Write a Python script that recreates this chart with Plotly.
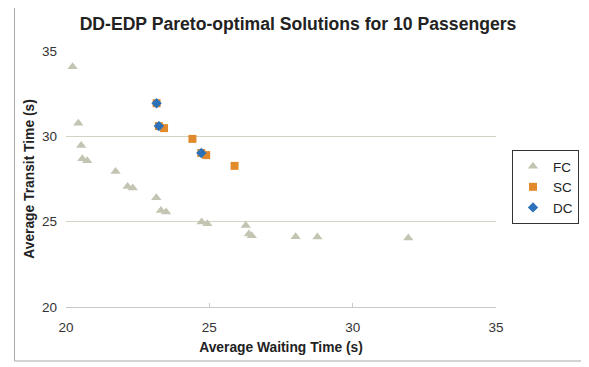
import plotly.graph_objects as go

# Data
fc_wait = [20.23, 20.43, 20.53, 20.57, 20.74, 21.73, 22.15, 22.33, 23.15, 23.31, 23.49,
           24.73, 24.93, 26.27, 26.38, 26.48, 28.01, 28.77, 31.94]
fc_transit = [34.08, 30.77, 29.46, 28.68, 28.57, 27.94, 27.06, 26.97, 26.40, 25.66, 25.57,
              24.98, 24.88, 24.78, 24.28, 24.18, 24.12, 24.10, 24.05]

sc_wait = [23.16, 23.24, 23.42, 24.41, 24.72, 24.89, 25.88]
sc_transit = [31.94, 30.60, 30.48, 29.85, 29.02, 28.90, 28.27]

dc_wait = [23.16, 23.24, 24.72]
dc_transit = [31.94, 30.60, 29.02]

x_ticks = [20, 25, 30, 35]
y_ticks = [20, 25, 30, 35]

title_text = "DD-EDP Pareto-optimal Solutions for 10 Passengers"
x_title = "Average Waiting Time (s)"
y_title = "Average Transit Time (s)"

FONT = "Liberation Sans, Arial, sans-serif"

fig = go.Figure()
fig.add_trace(go.Scatter(x=fc_wait, y=fc_transit, mode="markers", name="FC",
                         marker=dict(symbol="triangle-up", size=9, color="#C4C4B2")))
fig.add_trace(go.Scatter(x=sc_wait, y=sc_transit, mode="markers", name="SC",
                         marker=dict(symbol="square", size=8, color="#E28A2B")))
fig.add_trace(go.Scatter(x=dc_wait, y=dc_transit, mode="markers", name="DC",
                         marker=dict(symbol="diamond", size=8, color="#2D72B8")))

# The page body has an 8px default margin; size the figure to fit the window.
OFF = 8
W, H = 589 - OFF, 367 - OFF
# plot area in page pixels: x 66..496, y 51..307
L, R, T, B = 66 - OFF, 589 - 496, 51 - OFF, 367 - 307
pw, ph = W - L - R, H - T - B

def px_x(px):  # page px -> paper
    return (px - OFF - L) / pw

def px_y(py):
    return (H - B - (py - OFF)) / ph

fig.update_layout(
    width=W, height=H,
    margin=dict(l=L, r=R, t=T, b=B, pad=0, autoexpand=False),
    paper_bgcolor="white", plot_bgcolor="white",
    font=dict(family=FONT, size=13.5, color="#333333"),
    title=dict(text="<b>" + title_text + "</b>", x=(298 - OFF) / W, xanchor="center",
               y=1 - (24 - OFF) / H, yanchor="middle", yref="container",
               font=dict(family=FONT, size=17.6, color="#222222")),
    xaxis=dict(range=[20, 35], tickvals=x_ticks, showgrid=False, zeroline=False,
               showline=True, linecolor="#C8C8C8", linewidth=1,
               ticks="inside", ticklen=4, tickcolor="#C8C8C8",
               ticklabelstandoff=8,
               tickfont=dict(size=13.5, color="#333333"),
               title=dict(text="<b>" + x_title + "</b>", standoff=8,
                          font=dict(size=13.8, color="#222222"))),
    yaxis=dict(range=[20, 35], tickvals=y_ticks, showgrid=True, gridcolor="#D3D2C3",
               gridwidth=1, zeroline=False, showline=False, ticks="",
               ticklabelstandoff=8,
               tickfont=dict(size=13.5, color="#333333"),
               title=dict(text="<b>" + y_title + "</b>", standoff=4,
                          font=dict(size=13.8, color="#222222"))),
    legend=dict(x=px_x(512), y=px_y(150), xanchor="left", yanchor="top",
                bordercolor="#333333", borderwidth=1, bgcolor="white",
                font=dict(size=13.5, color="#222222"), itemwidth=30,
                tracegroupgap=0),
    showlegend=True,
    shapes=[dict(type="rect", xref="paper", yref="paper",
                 x0=px_x(14.5), x1=px_x(583), y0=px_y(361), y1=px_y(4),
                 line=dict(color="#A8A8A8", width=1), layer="below")],
)

fig.write_html("out.html")
